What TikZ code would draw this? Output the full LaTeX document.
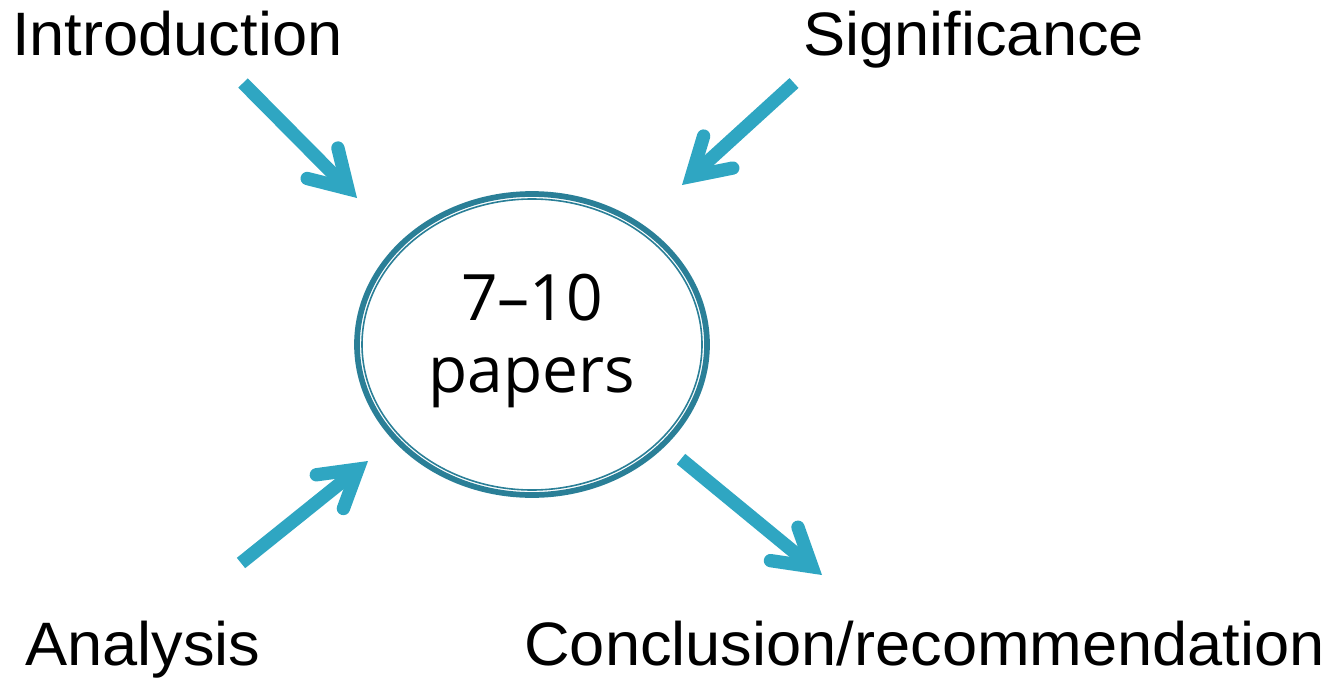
\documentclass[tikz,border=0pt]{standalone}
\usepackage{fontspec}
\setmainfont{Liberation Sans}[FakeStretch=1.03]
\newfontfamily\hubfont{Open Sans}
\usetikzlibrary{calc,shapes.geometric}
\definecolor{arrowblue}{HTML}{2FA6C2}
\definecolor{ringteal}{HTML}{2A7F97}
\tikzset{
  label/.style={anchor=base west, inner sep=0pt, font=\fontsize{46}{54}\selectfont},
  shaft/.style={draw=arrowblue, line width=10pt, line cap=butt},
  barbs/.style={draw=arrowblue, line width=10pt, line cap=round, line join=miter},
  ring/.style={draw=ringteal, line width=4.3pt},
  innerring/.style={draw=ringteal, line width=1.2pt},
}
\newcommand{\fatarrow}[2]{%
  \coordinate (#2v) at ($(#2)!9.7pt!(#1)$);
  \draw[shaft] (#1) -- (#2v);
  \draw[barbs] ($(#2v)!31.5pt!31:(#1)$) -- (#2v) -- ($(#2v)!31.5pt!-31:(#1)$);
}
\begin{document}
\begin{tikzpicture}[x=0.75pt,y=-0.75pt]
\useasboundingbox (0,0) rectangle (1334,678);
% labels
\node[label] (intro) at (12,55) {Introduction};
\node[label] (signif) at (803,55) {Significance};
\node[label] (analysis) at (25,665) {Analysis};
\node[label] (concl) at (524,665) {Conclusion/recommendation};
% hub
\node[ring, ellipse, minimum width=350*0.75pt, minimum height=301*0.75pt, inner sep=0pt] (hub) at (532,344.5) {};
\draw[innerring] (hub.center) ellipse [x radius=170*0.75pt, y radius=145.5*0.75pt];
\node[font=\hubfont\fontsize{48}{54}\selectfont, align=center, inner sep=0pt] (hubtext) at (532,341) {7–10\\papers};
% arrows
\coordinate (s1) at (243,83);  \coordinate (t1) at (357,198);
\coordinate (s2) at (794,83);  \coordinate (t2) at (682,185);
\coordinate (s3) at (241,563); \coordinate (t3) at (368,461);
\coordinate (s4) at (681,459); \coordinate (t4) at (822,575);
\fatarrow{s1}{t1}
\fatarrow{s2}{t2}
\fatarrow{s3}{t3}
\fatarrow{s4}{t4}
\end{tikzpicture}
\end{document}
